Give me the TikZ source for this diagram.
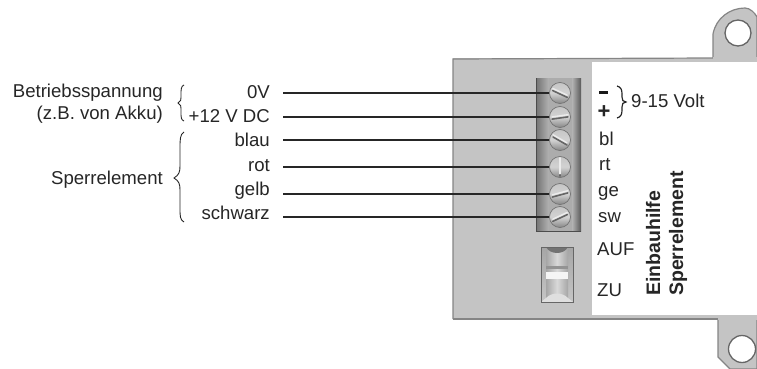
\documentclass[tikz,border=0pt]{standalone}
\usepackage{fontspec}
\setmainfont{Liberation Sans}
\usetikzlibrary{calc}
\definecolor{plate}{HTML}{C4C4C4}
\definecolor{rim}{HTML}{858585}
\definecolor{txt}{HTML}{262626}
\tikzset{
  lbl/.style={inner sep=0pt,text=txt,font=\fontsize{18.6}{20}\selectfont},
  leftlbl/.style={lbl,anchor=base east},
  rightlbl/.style={lbl,anchor=base west},
  boldlbl/.style={inner sep=0pt,text=txt,font=\fontsize{19.5}{21}\selectfont\bfseries,rotate=90,anchor=base west},
  wire/.style={draw=black!85,line width=1.1pt,shorten <=13pt},
  brc/.style={draw=txt,line width=0.9pt},
  screw/.style={circle,minimum size=21pt,inner sep=0pt,draw=black!55,line width=0.7pt,
    top color=gray!45,bottom color=gray!95,middle color=gray!35},
  slotd/.style={draw=black!60,line width=1.6pt,line cap=round},
  slotl/.style={draw=white!85!gray,line width=1.4pt,line cap=round},
  holestyle/.style={circle,inner sep=0pt,fill=white,draw=black!60,line width=1.3pt},
}
\begin{document}
\begin{tikzpicture}[x=1pt,y=-1pt]
\useasboundingbox (0,0) rectangle (757,369);
% ears
\path[fill=plate,draw=rim,line width=1.2pt] (713,58) -- (713,34) .. controls (716,18) and (730,8) .. (745,8) .. controls (750,8) and (755,13) .. (757,17) -- (757,58) -- cycle;
\path[fill=plate,draw=rim,line width=1.2pt] (718,318) -- (718,357) -- (730,369) -- (757,369) -- (757,318) -- cycle;
% plate
\path[fill=plate] (453,58) rectangle (757,319);
\draw[draw=rim,line width=1.2pt] (453,319) -- (453,59) -- (713,58);
\draw[draw=rim,line width=1.5pt] (453,319) -- (718,319);
\path[fill=white] (592,62) rectangle (757,315);
\path[fill=plate] (713,57) rectangle (757,62);
\path[fill=plate] (718,315) rectangle (757,320);
% holes
\node[holestyle,minimum size=26pt] (hole1) at (738,33) {};
\node[holestyle,minimum size=27pt] (hole2) at (742,349) {};
% terminal strip
\path[left color=gray!110,right color=gray!60] (536,78) rectangle (549,231);
\path[fill=gray!65] (549,78) rectangle (572,231);
\path[left color=gray!60,right color=black!65] (572,78) rectangle (581,231);
\draw[black!70,line width=0.8pt] (536,78) -- (536,231) -- (581,231);
% slider
\path[top color=gray!70,bottom color=gray!45] (541,247) rectangle (573,302);
\path[left color=gray!70,right color=gray!70,middle color=gray!30] (546,247) rectangle (568,302);
\path[fill=gray!110] (546,247) .. controls (550,255) and (564,255) .. (568,247) -- cycle;
\path[fill=gray!85] (546,266) rectangle (568,269);
\path[fill=white!92!gray] (546,272) rectangle (568,279);
\path[fill=gray!25] (546,298) .. controls (552,292) and (562,292) .. (568,298) -- (573,302) -- (541,302) -- cycle;
\draw[black!60,line width=0.9pt] (541,247) rectangle (573,302);
% screws
\foreach \n/\yy/\ang in {s1/93/25,s2/117/-8,s3/140/30,s4/167/90,s5/194/-15,s6/217/-25}{
  \node[screw] (\n) at (560,\yy) {};
  \draw[slotd] ($(\n)+(\ang:8)+(0,1)$) -- ($(\n)+(\ang+180:8)+(0,1)$);
  \draw[slotl] ($(\n)+(\ang:8)+(0,-1.2)$) -- ($(\n)+(\ang+180:8)+(0,-1.2)$);
}
% left labels
\node[leftlbl] (l1) at (270,98) {0V};
\node[leftlbl] (l2) at (270,122) {+12 V DC};
\node[leftlbl] (l3) at (270,146) {blau};
\node[leftlbl] (l4) at (270,171) {rot};
\node[leftlbl] (l5) at (270,195) {gelb};
\node[leftlbl] (l6) at (270,219) {schwarz};
\foreach \i in {1,...,6}{
  \draw[wire] (s\i.west -| l\i.east) -- (s\i.west);
}
\node[leftlbl] (bs) at (163,97) {Betriebsspannung};
\node[leftlbl] (za) at (163,119) {(z.B. von Akku)};
\node[leftlbl] (sp) at (163,184) {Sperrelement};
% braces
\draw[brc] (184,85) .. controls (181,86) and (181,90) .. (181,94) .. controls (181,100) and (181,102) .. (178,103) .. controls (181,104) and (181,106) .. (181,112) .. controls (181,117) and (181,120) .. (184,121);
\draw[brc] (184,132) .. controls (180,134) and (180,140) .. (180,148) -- (180,166) .. controls (180,172) and (179,175) .. (174,178) .. controls (179,181) and (180,184) .. (180,190) -- (180,208) .. controls (180,216) and (180,220) .. (184,222);
\draw[brc,line width=1.2pt] (617,86) .. controls (621,87) and (622,90) .. (622,94) -- (622,97) .. controls (622,100) and (623,102) .. (626,102) .. controls (623,102) and (622,104) .. (622,107) -- (622,110) .. controls (622,114) and (621,117) .. (617,118);
% right labels
\node[inner sep=0pt,fill=black!90,minimum width=8.5pt,minimum height=3pt] (minus) at (603.5,92.5) {};
\node[inner sep=0pt,text=txt,font=\fontsize{22}{24}\selectfont\bfseries] (plus) at (604,112) {+};
\node[rightlbl] (volt) at (631,107) {9-15 Volt};
\node[rightlbl] (bl) at (599,145) {bl};
\node[rightlbl] (rt) at (599,170) {rt};
\node[rightlbl] (ge) at (598,196) {ge};
\node[rightlbl] (sw) at (598,222) {sw};
\node[rightlbl] (auf) at (597,255) {AUF};
\node[rightlbl] (zu) at (597,296) {ZU};
\node[boldlbl] (e1) at (660,296) {Einbauhilfe};
\node[boldlbl] (e2) at (683,296) {Sperrelement};
\end{tikzpicture}
\end{document}
